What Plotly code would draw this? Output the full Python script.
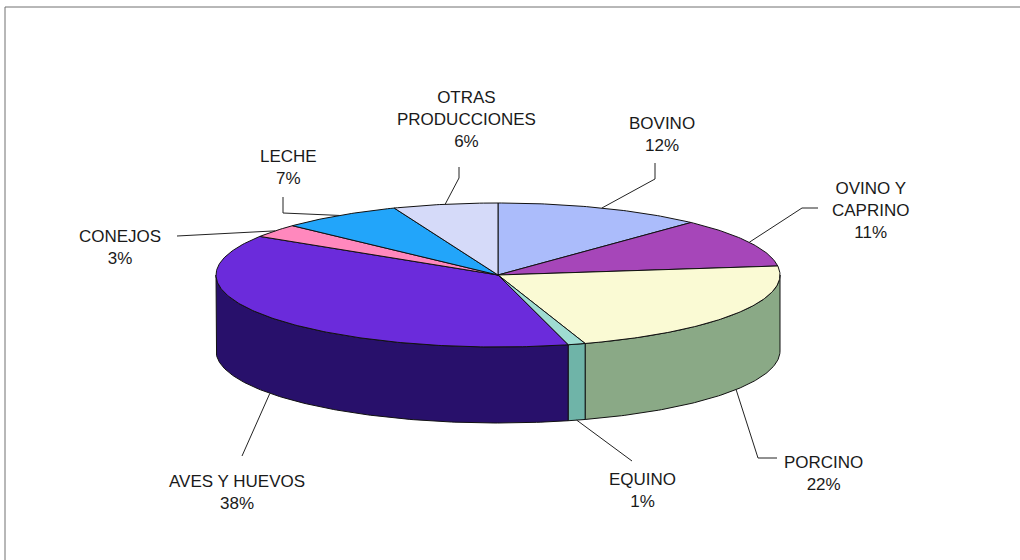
import numpy as np
import plotly.graph_objects as go

# Share of each production (percent), clockwise from 12 o'clock
categories = ["BOVINO", "OVINO Y CAPRINO", "PORCINO", "EQUINO",
              "AVES Y HUEVOS", "CONEJOS", "LECHE", "OTRAS PRODUCCIONES"]
label_lines = ["BOVINO", "OVINO Y<br>CAPRINO", "PORCINO", "EQUINO",
               "AVES Y HUEVOS", "CONEJOS", "LECHE", "OTRAS<br>PRODUCCIONES"]
shares = [12, 11, 22, 1, 38, 3, 7, 6]

# Face colours (top) and wall colours (side)
top_colors = ["#abbcfb", "#a646b9", "#fafad4", "#9fdcd2",
              "#6b2bdb", "#ff88bd", "#22a5fa", "#d5daf9"]
side_colors = ["#7d8cc0", "#6e2a80", "#8aa986", "#6fb4a8",
               "#28106b", "#c0608a", "#1577b8", "#a0a6c8"]

# Projected pie geometry in page pixels
CX, CY, RX, RY, DEPTH = 498, 275, 282, 72, 76

# Label centres and leader elbows
label_pos = [(662, 134), (870, 210), (823, 473), (642, 490),
             (237, 492), (120, 247), (288, 167), (466, 119)]
leader_knots = [[(655, 163), (655, 179)], [(818, 208), (802, 208)],
                [(777, 458), (758, 458)], [(632, 461)], [(242, 456)],
                [(177, 236)], [(283, 197), (283, 213)],
                [(459, 167), (459, 178)]]


def ell(theta, dy=0.0):
    return CX + RX * np.sin(theta), CY - RY * np.cos(theta) + dy


total = float(sum(shares))
bounds = np.concatenate([[0.0], np.cumsum(shares) / total]) * 2 * np.pi

fig = go.Figure()
edge = dict(color="#111111", width=1)

# Side walls: only the front half (90..270 deg) is visible
for i in range(len(shares)):
    lo = max(bounds[i], np.pi / 2)
    hi = min(bounds[i + 1], 3 * np.pi / 2)
    if hi <= lo:
        continue
    t = np.linspace(lo, hi, max(3, int((hi - lo) * 80)))
    xt, yt = ell(t)
    xb, yb = ell(t[::-1], DEPTH)
    xs = np.concatenate([xt, xb, xt[:1]])
    ys = np.concatenate([yt, yb, yt[:1]])
    fig.add_trace(go.Scatter(x=xs, y=ys, mode="lines", fill="toself",
                             fillcolor=side_colors[i], line=edge,
                             hoverinfo="skip", showlegend=False))

# Top faces
for i in range(len(shares)):
    a, b = bounds[i], bounds[i + 1]
    t = np.linspace(a, b, max(3, int((b - a) * 80)))
    xt, yt = ell(t)
    xs = np.concatenate([[CX], xt, [CX]])
    ys = np.concatenate([[CY], yt, [CY]])
    fig.add_trace(go.Scatter(x=xs, y=ys, mode="lines", fill="toself",
                             fillcolor=top_colors[i], line=edge,
                             hoverinfo="skip", showlegend=False))

# Leader lines and labels
annotations = []
for i in range(len(shares)):
    m = 0.5 * (bounds[i] + bounds[i + 1])
    ex, ey = ell(m)
    if np.cos(m) < 0:
        ey += DEPTH
    pts = leader_knots[i] + [(ex, ey)]
    fig.add_trace(go.Scatter(x=[p[0] for p in pts], y=[p[1] for p in pts],
                             mode="lines", line=dict(color="#222222", width=1),
                             hoverinfo="skip", showlegend=False))
    lx, ly = label_pos[i]
    annotations.append(dict(
        x=lx, y=ly, xref="x", yref="y", showarrow=False,
        text=f"{label_lines[i]}<br>{shares[i]}%", align="center",
        xanchor="center", yanchor="middle",
        font=dict(family="Liberation Sans, Arial, sans-serif", size=17,
                  color="#1a1a1a")))

fig.update_layout(
    width=1020, height=560,
    margin=dict(l=0, r=0, t=0, b=0, pad=0),
    paper_bgcolor="white", plot_bgcolor="white",
    xaxis=dict(range=[0, 1020], visible=False, fixedrange=True),
    yaxis=dict(range=[560, 0], visible=False, fixedrange=True),
    hovermode=False,
    annotations=annotations,
    shapes=[dict(type="line", xref="x", yref="y", x0=5, y0=560, x1=5, y1=7,
                 line=dict(color="#707070", width=1)),
            dict(type="line", xref="x", yref="y", x0=5, y0=7, x1=1020, y1=7,
                 line=dict(color="#707070", width=1))],
)

fig.write_html("out.html")
